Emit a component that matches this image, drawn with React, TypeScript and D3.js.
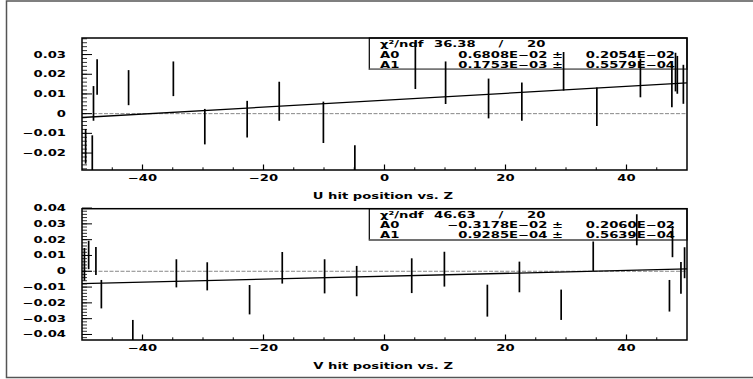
import * as d3 from "d3";

// U residuals vs Z
const uZ = [-49.4, -48.3, -48.1, -47.5, -42.3, -34.9, -29.7, -22.7, -17.4, -10.1, -4.9, 5.1, 10.1, 17.2, 22.7, 29.6, 35.1, 42.3, 47.5, 48.1, 48.4, 49.4];
const uVal = [-0.0166, -0.025, 0.0052, 0.0186, 0.0132, 0.0177, -0.0066, -0.0028, 0.0063, -0.0044, -0.027, 0.0243, 0.0157, 0.0077, 0.0061, 0.0215, 0.0035, 0.0181, 0.014, 0.0211, 0.0197, 0.0149];
const uErr = [0.0088, 0.014, 0.0088, 0.009, 0.0089, 0.0088, 0.009, 0.0093, 0.0099, 0.0105, 0.011, 0.0118, 0.0108, 0.0101, 0.0097, 0.0098, 0.0098, 0.0098, 0.0108, 0.0098, 0.0096, 0.0099];
const uFit = [0.006808, 0.0001753];
const uStats = ["36.38", "20", "0.6808E\u221202 \u00b1", "0.2054E\u221202", "0.1753E\u221203 \u00b1", "0.5579E\u221204"];

// V residuals vs Z
const vZ = [-49.6, -48.9, -47.7, -46.8, -41.6, -34.4, -29.3, -22.3, -16.9, -9.9, -4.6, 4.5, 9.9, 17.0, 22.3, 29.2, 34.5, 41.7, 47.1, 47.6, 49.0, 49.6];
const vVal = [0.0044, 0.0103, 0.0065, -0.0145, -0.04, -0.0013, -0.0032, -0.018, 0.0022, -0.0032, -0.0062, -0.0028, 0.0013, -0.0186, -0.0036, -0.0212, 0.0095, 0.0263, -0.0155, 0.0188, -0.0042, 0.0054];
const vErr = [0.0104, 0.009, 0.0089, 0.009, 0.0092, 0.0089, 0.0089, 0.0093, 0.01, 0.0108, 0.0096, 0.011, 0.011, 0.0101, 0.0097, 0.0096, 0.0093, 0.0098, 0.01, 0.0099, 0.01, 0.0098];
const vFit = [-0.003178, 0.00009285];
const vStats = ["46.63", "20", "\u22120.3178E\u221202 \u00b1", "0.2060E\u221202", "0.9285E\u221204 \u00b1", "0.5639E\u221204"];

const uTicks = [-0.02, -0.01, 0, 0.01, 0.02, 0.03];
const vTicks = [-0.04, -0.03, -0.02, -0.01, 0, 0.01, 0.02, 0.03, 0.04];
const xTicks = [-40, -20, 0, 20, 40];

const left = 82, right = 687;
const SX = 1.55;
const FONT = "DejaVu Sans";

function T({ x, y, anchor = "start", children }) {
  return (
    <text transform={`translate(${x},${y}) scale(${SX},1)`} textAnchor={anchor}
      fontFamily={FONT} fontWeight="bold" fontSize={8.5} fill="#000">{children}</text>
  );
}

function fmt(v) {
  if (v === 0) return "0";
  const s = d3.format(".2f")(Math.abs(v));
  return (v < 0 ? "\u2212" : "") + s;
}

function Panel({ id, top, bottom, domain, ticks, z, val, err, fit, stats, title }) {
  const x = d3.scaleLinear([-50, 50], [left, right]);
  const y = d3.scaleLinear(domain, [bottom, top]);
  const minorY = d3.range(Math.ceil(domain[0] / 0.002), Math.floor(domain[1] / 0.002) + 1).map(i => i * 0.002);
  const minorX = d3.range(-45, 50, 5).filter(v => v % 20 !== 0);
  const line = d3.line().x(d => x(d)).y(d => y(fit[0] + fit[1] * d));
  const boxL = 369.3, boxB = top + 31.3;
  return (
    <g>
      <defs>
        <clipPath id={id}><rect x={left} y={top} width={right - left} height={bottom - top} /></clipPath>
      </defs>
      {/* stats box */}
      <rect x={boxL} y={top} width={right - boxL} height={boxB - top} fill="#fff" stroke="#000" strokeWidth={1.2} />
      <line x1={boxL} x2={right} y1={boxB} y2={boxB} stroke="#777" strokeWidth={1.5} />
      <T x={380} y={top + 9}>{"\u03c7\u00b2/ndf"}</T>
      <T x={434} y={top + 9}>{stats[0]}</T>
      <T x={501} y={top + 9} anchor="middle">/</T>
      <T x={527} y={top + 9}>{stats[1]}</T>
      <T x={380} y={top + 19.5}>A0</T>
      <T x={563} y={top + 19.5} anchor="end">{stats[2]}</T>
      <T x={675} y={top + 19.5} anchor="end">{stats[3]}</T>
      <T x={380} y={top + 29.5}>A1</T>
      <T x={563} y={top + 29.5} anchor="end">{stats[4]}</T>
      <T x={675} y={top + 29.5} anchor="end">{stats[5]}</T>

      <g clipPath={`url(#${id})`}>
        <line x1={left} x2={right} y1={y(0)} y2={y(0)} stroke="#888" strokeWidth={1} strokeDasharray="4,1.5" />
        <path d={line([-50, 50])} fill="none" stroke="#000" strokeWidth={1.3} />
        {z.map((d, i) => (
          <line key={i} x1={x(d)} x2={x(d)} y1={y(val[i] - err[i])} y2={y(val[i] + err[i])} stroke="#000" strokeWidth={1.7} />
        ))}
      </g>

      {/* frame */}
      <rect x={left} y={top} width={right - left} height={bottom - top} fill="none" stroke="#000" strokeWidth={1.5} />
      {/* y ticks */}
      {minorY.map((v, i) => (
        <line key={i} x1={left} x2={left + 5} y1={y(v)} y2={y(v)} stroke="#000" strokeWidth={0.8} />
      ))}
      {ticks.map((v, i) => (
        <g key={i}>
          <line x1={left} x2={left + 10} y1={y(v)} y2={y(v)} stroke="#000" strokeWidth={1} />
          <T x={66} y={y(v) + 3} anchor="end">{fmt(v)}</T>
        </g>
      ))}
      {/* x ticks */}
      {minorX.map((v, i) => (
        <line key={i} x1={x(v)} x2={x(v)} y1={bottom} y2={bottom - 2.7} stroke="#000" strokeWidth={1} />
      ))}
      {xTicks.map((v, i) => (
        <g key={i}>
          <line x1={x(v)} x2={x(v)} y1={bottom} y2={bottom - 5.5} stroke="#000" strokeWidth={1.2} />
          <T x={x(v)} y={bottom + 11} anchor="middle">{v < 0 ? "\u2212" + Math.abs(v) : String(v)}</T>
        </g>
      ))}
      <T x={453} y={bottom + 29} anchor="end">{title}</T>
    </g>
  );
}

export default function App() {
  return (
    <svg width={753} height={379} style={{ position: "absolute", left: 0, top: 0, background: "#fff" }}>
      <rect x={6.5} y={1} width={760} height={376.5} fill="#fff" stroke="#555" strokeWidth={1.5} />
      <Panel id="cu" top={38} bottom={170} domain={[-0.0286, 0.0384]} ticks={uTicks}
        z={uZ} val={uVal} err={uErr} fit={uFit} stats={uStats} title="U hit position vs. Z" />
      <Panel id="cv" top={208.7} bottom={340} domain={[-0.0435, 0.0396]} ticks={vTicks}
        z={vZ} val={vVal} err={vErr} fit={vFit} stats={vStats} title="V hit position vs. Z" />
    </svg>
  );
}
